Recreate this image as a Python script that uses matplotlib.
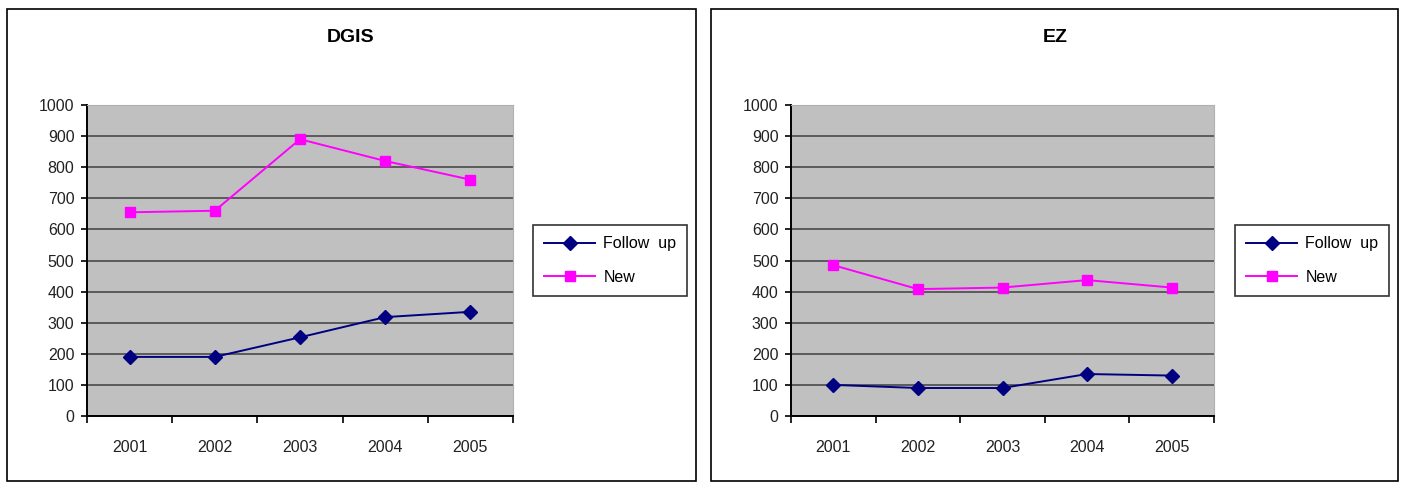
import matplotlib.pyplot as plt
from matplotlib.patches import Rectangle

plt.rcParams['font.family'] = ['Liberation Sans', 'DejaVu Sans']

years = ['2001', '2002', '2003', '2004', '2005']
dgis_follow = [190, 190, 253, 318, 335]
dgis_new = [655, 660, 890, 820, 760]
ez_follow = [100, 90, 90, 135, 130]
ez_new = [485, 408, 413, 437, 413]

W, H = 1403, 483
fig = plt.figure(figsize=(W / 100, H / 100), dpi=100)

# panel borders
for x0, x1 in [(7, 696), (711, 1398)]:
    fig.patches.append(Rectangle((x0 / W, 1 - 481 / H), (x1 - x0) / W, (481 - 9) / H,
                                 transform=fig.transFigure, fill=False,
                                 edgecolor='black', linewidth=1.2))


def panel(left, right, title, follow, new, leg_x, center):
    ax = fig.add_axes([left / W, 1 - 416 / H, (right - left) / W, 311 / H])
    ax.set_facecolor('#C0C0C0')
    x = range(len(years))
    ax.plot(x, follow, color='#000080', marker='D', markersize=7.5, linewidth=1.4,
            label='Follow  up')
    ax.plot(x, new, color='#FF00FF', marker='s', markersize=7.5, linewidth=1.4,
            label='New')
    ax.set_xlim(-0.5, 4.5)
    ax.set_ylim(0, 1000)
    ax.set_yticks(range(0, 1001, 100))
    ax.yaxis.grid(True, color='#404040', linewidth=1.1)
    ax.set_axisbelow(True)
    ax.set_xticks([i - 0.5 for i in range(6)])
    ax.set_xticklabels([])
    ax.set_xticks(list(x), minor=True)
    ax.set_xticklabels(years, minor=True)
    ax.tick_params(axis='x', which='minor', length=0, pad=17, labelsize=11.5,
                   labelcolor='#222222')
    ax.tick_params(axis='x', which='major', length=5, direction='out', width=1.2)
    ax.tick_params(axis='y', length=4, direction='out', width=1.2, labelsize=11.5,
                   pad=5, labelcolor='#222222')
    for s in ['top', 'right']:
        ax.spines[s].set_color('#B0B0B0')
    for s in ['left', 'bottom']:
        ax.spines[s].set_color('black')
        ax.spines[s].set_linewidth(1.4)
    fig.text(center / W, 1 - 38 / H, title, ha='center', va='center',
             fontsize=14, fontweight='bold')
    leg = ax.legend(loc='upper left', bbox_to_anchor=(leg_x / W, 1 - 225 / H),
                    bbox_transform=fig.transFigure, borderaxespad=0,
                    fancybox=False, edgecolor='black', fontsize=11.5,
                    handlelength=3.2, handletextpad=0.5, labelspacing=1.15,
                    borderpad=0.7)
    leg.get_frame().set_linewidth(1.2)
    return ax


panel(87, 513, 'DGIS', dgis_follow, dgis_new, 533, 351)
panel(791, 1214, 'EZ', ez_follow, ez_new, 1235, 1055)

fig.savefig('out.png', dpi=100)
